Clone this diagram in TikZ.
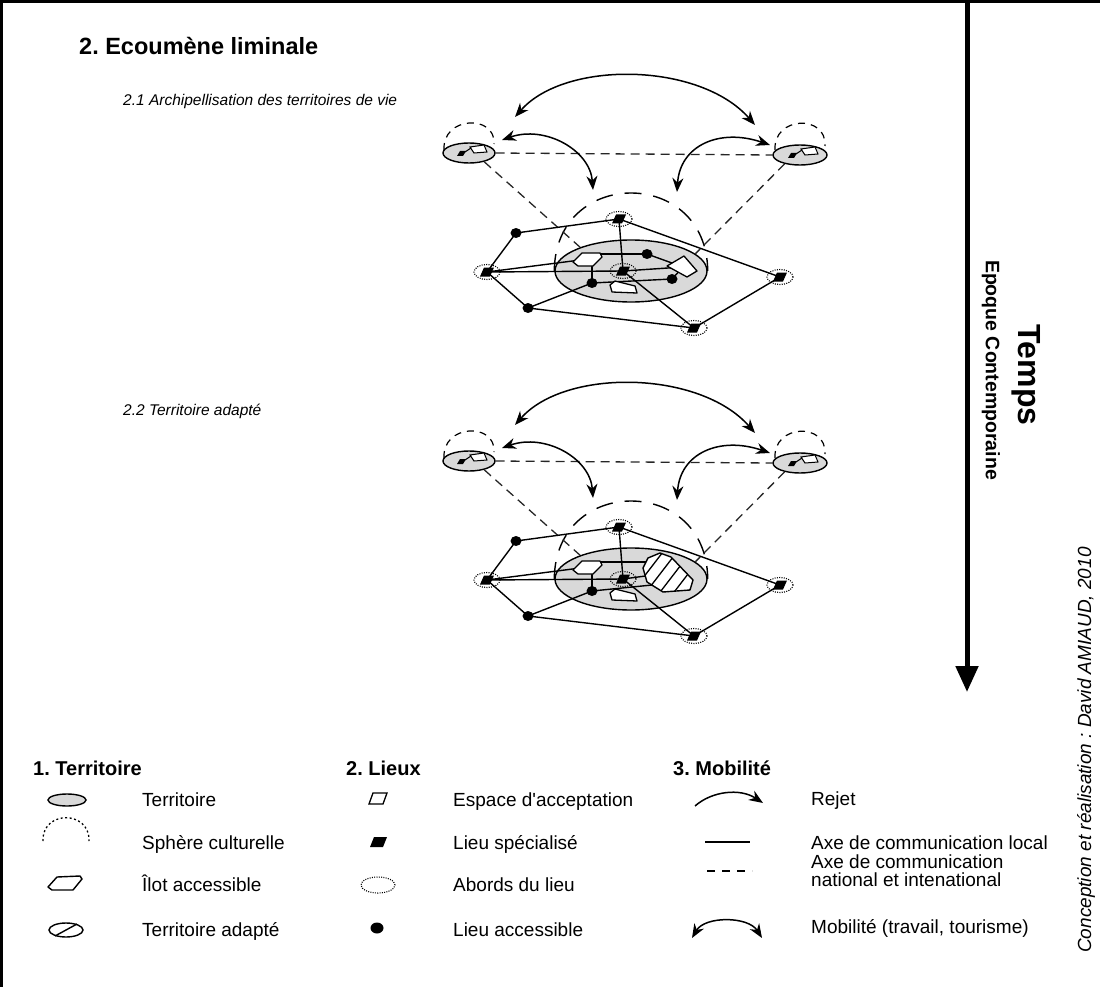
\documentclass[tikz,border=0pt]{standalone}
\usepackage{fontspec}
\setmainfont{Liberation Sans}
\usepackage{graphicx}
\usetikzlibrary{shapes.geometric,arrows.meta}
\frenchspacing
\tikzset{
  ln/.style={line width=1.4pt},
  natl/.style={line width=1.3pt, dash pattern=on 9pt off 6pt, draw=black!85},
  sph/.style={line width=1.4pt, dash pattern=on 17pt off 12pt},
  ssph/.style={line width=1.2pt, dash pattern=on 7pt off 6pt},
  terr/.style={draw, line width=1.4pt, fill=black!15, ellipse, inner sep=0pt},
  mob/.style={line width=1.5pt, {Stealth[length=14pt,width=11pt]}-{Stealth[length=14pt,width=11pt]}},
  abord/.style={line width=1.1pt, dash pattern=on 1pt off 1.3pt},
  whitesh/.style={fill=white, draw, line width=1.3pt, line join=round},
  legtxt/.style={anchor=base west, inner sep=0pt, font=\fontsize{19}{22}\selectfont},
  leghead/.style={anchor=base west, inner sep=0pt, font=\bfseries\fontsize{20}{22}\selectfont},
  pics/lieu/.style={code={
    \fill (-7,4.5) -- (-3,-4.5) -- (7,-4.5) -- (3,4.5) -- cycle;
    \draw[abord] (0,0) ellipse [x radius=13pt, y radius=7.5pt];
  }},
  pics/satsym/.style={code={
    \fill (-12,3) -- (-9,-2) -- (-3,-2) -- (-6,3) -- cycle;
    \draw[line width=1pt] (-4,-1) -- (2,-5);
    \filldraw[fill=white, line width=1pt] (1,-6) -- (15,-8) -- (18,-1) -- (5,0) -- cycle;
  }}
}
\begin{document}
\begin{tikzpicture}[x=1pt,y=-1pt]
\useasboundingbox (0,0) rectangle (1100,987);
% frame
\draw[line width=3pt] (0,1.5) -- (1100,1.5);
\draw[line width=3pt] (1.5,0) -- (1.5,987);

% titles
\node[anchor=base west, inner sep=0pt, font=\bfseries\fontsize{23.5}{26}\selectfont] (title) at (79,55) {2. Ecoumène liminale};
\node[anchor=base west, inner sep=0pt, font=\itshape\fontsize{15.5}{18}\selectfont] (sub1) at (123,106) {2.1 Archipellisation des territoires de vie};
\node[anchor=base west, inner sep=0pt, font=\itshape\fontsize{15.5}{18}\selectfont] (sub2) at (123,415) {2.2 Territoire adapté};

% diagrams
\foreach \p/\dy in {a/0,b/308}{
\begin{scope}[shift={(0,\dy)}]
  \node[terr, minimum width=152pt, minimum height=62pt] (\p-M) at (631,271) {};
  \node[terr, minimum width=52pt, minimum height=20pt] (\p-S1) at (469,153) {};
  \node[terr, minimum width=54pt, minimum height=20pt] (\p-S2) at (800,155) {};
  \pic at (\p-S1) {satsym};
  \pic at (\p-S2) {satsym};
  % cultural spheres
  \draw[sph] (\p-M.west) .. controls (555,167) and (707,167) .. (\p-M.east);
  \draw[ssph] (444,150) .. controls (442,116) and (496,114) .. (494,144);
  \draw[ssph] (775,150) .. controls (773,116) and (827,114) .. (825,146);
  % national axes
  \draw[natl] (\p-S1.east) -- (\p-S2.west);
  \draw[natl] (\p-S1.-30) -- (\p-M.155);
  \draw[natl] (\p-S2.210) -- (\p-M.15);
  % places
  \coordinate (\p-T) at (619,219);
  \coordinate (\p-L) at (487,272);
  \coordinate (\p-C) at (623,271);
  \coordinate (\p-R) at (780,277);
  \coordinate (\p-B) at (694,328);
  \coordinate (\p-d1) at (516,233);
  \coordinate (\p-d2) at (528,308);
  \coordinate (\p-d3) at (592,283);
  \coordinate (\p-H) at (588,259);
  % local axes
  \draw[ln, line join=round] (\p-T) -- (\p-d1) -- (\p-L) -- (\p-d2) -- (\p-B) -- (\p-R) -- (\p-T);
  \draw[ln] (\p-T) -- (\p-C);
  \draw[ln] (\p-L) -- (\p-C);
  \draw[ln] (\p-L) -- (\p-H);
  \draw[ln] (\p-d3) -- (\p-d3 |- \p-H);
  \draw[ln] (\p-d3) -- (\p-d2);
  \draw[ln] (\p-C) -- (\p-B);
  % mobility arrows
  \coordinate (\p-m1a) at (515,117);
  \coordinate (\p-m1b) at (755,125);
  \coordinate (\p-m2a) at (502,140);
  \coordinate (\p-m2b) at (593,190);
  \coordinate (\p-m3a) at (677,192);
  \coordinate (\p-m3b) at (770,145);
  \draw[mob] (\p-m1a) .. controls +(50,-57) and +(-55,-63) .. (\p-m1b);
  \draw[mob] (\p-m2a) .. controls +(43,-15) and +(-3,-40) .. (\p-m2b);
  \draw[mob] (\p-m3a) .. controls +(3,-47) and +(-50,-17) .. (\p-m3b);
\end{scope}
}

% top-only elements
\coordinate (a-d4) at (647,254);
\coordinate (a-d5) at (672,279);
\coordinate (a-Q) at (683,267);
\coordinate (a-W) at (624,288);
\draw[ln] (a-d4) -- (a-d4 -| a-H);
\draw[ln] (a-d4) -- (a-Q);
\draw[ln] (a-C) -- (a-Q);
\draw[ln] (a-d3) -- (a-d5);
\draw[ln] (a-d5) -- (a-Q);

% bottom-only elements
\coordinate (b-X) at (668,573);
\coordinate (b-Xw) at (648,562);
\coordinate (b-Xs) at (652,585);
\coordinate (b-W) at (624,596);
\draw[ln] (b-Xw) -- (b-Xw -| b-H);
\draw[ln] (b-C) -- (b-X);
\draw[ln] (b-d3) -- (b-Xs);

% white shapes
\foreach \p/\dy in {a/0,b/308}{
\begin{scope}[shift={(0,\dy)}]
  \filldraw[whitesh] (573,262) -- (582,253) -- (600,253) -- (602,257) -- (593,266) -- (578,266) -- cycle;
  \filldraw[whitesh] (610,285) -- (615,281) -- (635,286) -- (637,293) -- (612,292) -- cycle;
\end{scope}
}
\filldraw[whitesh] (667,266) -- (684,256) -- (697,271) -- (687,277) -- cycle;
\begin{scope}[shift={(0,308)}]
  \fill[white] (643,260) -- (648,250) -- (660,245) -- (671,249) -- (693,272) -- (690,282) -- (663,284) -- (647,274) -- cycle;
  \begin{scope}
    \clip (643,260) -- (648,250) -- (660,245) -- (671,249) -- (693,272) -- (690,282) -- (663,284) -- (647,274) -- cycle;
    \foreach \k in {0,...,6} \draw[line width=1.3pt] (612+\k*14,292) -- (652+\k*14,240);
  \end{scope}
  \draw[ln, line join=round] (643,260) -- (648,250) -- (660,245) -- (671,249) -- (693,272) -- (690,282) -- (663,284) -- (647,274) -- cycle;
\end{scope}

% dots and places on top
\foreach \p in {a,b}{
  \foreach \d in {d1,d2,d3} \fill (\p-\d) circle [x radius=5.5pt, y radius=5pt];
  \foreach \n in {T,L,C,R,B} \pic at (\p-\n) {lieu};
}
\fill (a-d4) circle [x radius=5.5pt, y radius=5pt];
\fill (a-d5) circle [x radius=5.5pt, y radius=5pt];

% time arrow
\coordinate (t0) at (967,2);
\coordinate (t1) at (967,692);
\draw[line width=5pt, -{Triangle[length=26pt,width=22pt]}] (t0) -- (t1);
\node[rotate=-90, font=\bfseries\fontsize{32}{34}\selectfont] (temps) at (1026,375) {Temps};
\node[rotate=-90, font=\bfseries\fontsize{19.5}{20}\selectfont] (epoque) at (991,370) {Epoque Contemporaine};
\node[rotate=90, font=\itshape\fontsize{19}{20}\selectfont] (credit) at (1086,750) {Conception et réalisation : David AMIAUD, 2010};

\begin{scope}[shift={(0,-25)}]
% legend column 1
\node[leghead] (h1) at (33,800) {1. Territoire};
\node[terr, minimum width=38pt, minimum height=12pt] (l1a) at (67,825) {};
\draw[line width=1.3pt, dash pattern=on 2pt off 2.5pt] (43,866) .. controls (42,835) and (90,835) .. (89,866);
\draw[ln, line join=round] (48,912) -- (57,902) -- (80,901) -- (82,904) -- (73,915) -- (52,915) -- cycle;
\draw[ln] (66,955) ellipse [x radius=17pt, y radius=7pt];
\draw[ln] (55,961) -- (77,949);
\node[legtxt] (t1a) at (142,831) {Territoire};
\node[legtxt] (t1b) at (142,874) {Sphère culturelle};
\node[legtxt] (t1c) at (142,916) {Îlot accessible};
\node[legtxt] (t1d) at (142,961) {Territoire adapté};

% legend column 2
\node[leghead] (h2) at (346,800) {2. Lieux};
\filldraw[fill=white, line width=1.3pt] (369,829) -- (373,818) -- (387,818) -- (383,829) -- cycle;
\fill (370,872) -- (374,862) -- (387,862) -- (383,872) -- cycle;
\draw[abord] (378,910) ellipse [x radius=17pt, y radius=8pt];
\fill (377,953) circle [x radius=6.5pt, y radius=5.5pt];
\node[legtxt] (t2a) at (453,831) {Espace d\textquotesingle acceptation};
\node[legtxt] (t2b) at (453,874) {Lieu spécialisé};
\node[legtxt] (t2c) at (453,916) {Abords du lieu};
\node[legtxt] (t2d) at (453,961) {Lieu accessible};

% legend column 3
\node[leghead] (h3) at (673,800) {3. Mobilité};
\coordinate (r0) at (695,831);
\coordinate (r1) at (763,828);
\draw[line width=1.5pt, -{Stealth[length=14pt,width=11pt]}] (r0) .. controls +(17,-15) and +(-23,-15) .. (r1);
\coordinate (la) at (705,867);
\coordinate (lb) at (750,867);
\draw[ln] (la) -- (lb);
\coordinate (na) at (707,896);
\coordinate (nb) at (752,896);
\draw[line width=1.3pt, dash pattern=on 8pt off 7pt] (na) -- (nb);
\coordinate (ma) at (692,963);
\coordinate (mb) at (762,963);
\draw[mob] (ma) .. controls +(13,-22) and +(-14,-22) .. (mb);
\node[legtxt] (t3a) at (811,830) {Rejet};
\node[legtxt] (t3b) at (811,874) {Axe de communication local};
\node[legtxt] (t3c) at (811,893) {Axe de communication};
\node[legtxt] (t3d) at (811,911) {national et intenational};
\node[legtxt] (t3e) at (811,958) {Mobilité (travail, tourisme)};
\end{scope}
\end{tikzpicture}
\end{document}
